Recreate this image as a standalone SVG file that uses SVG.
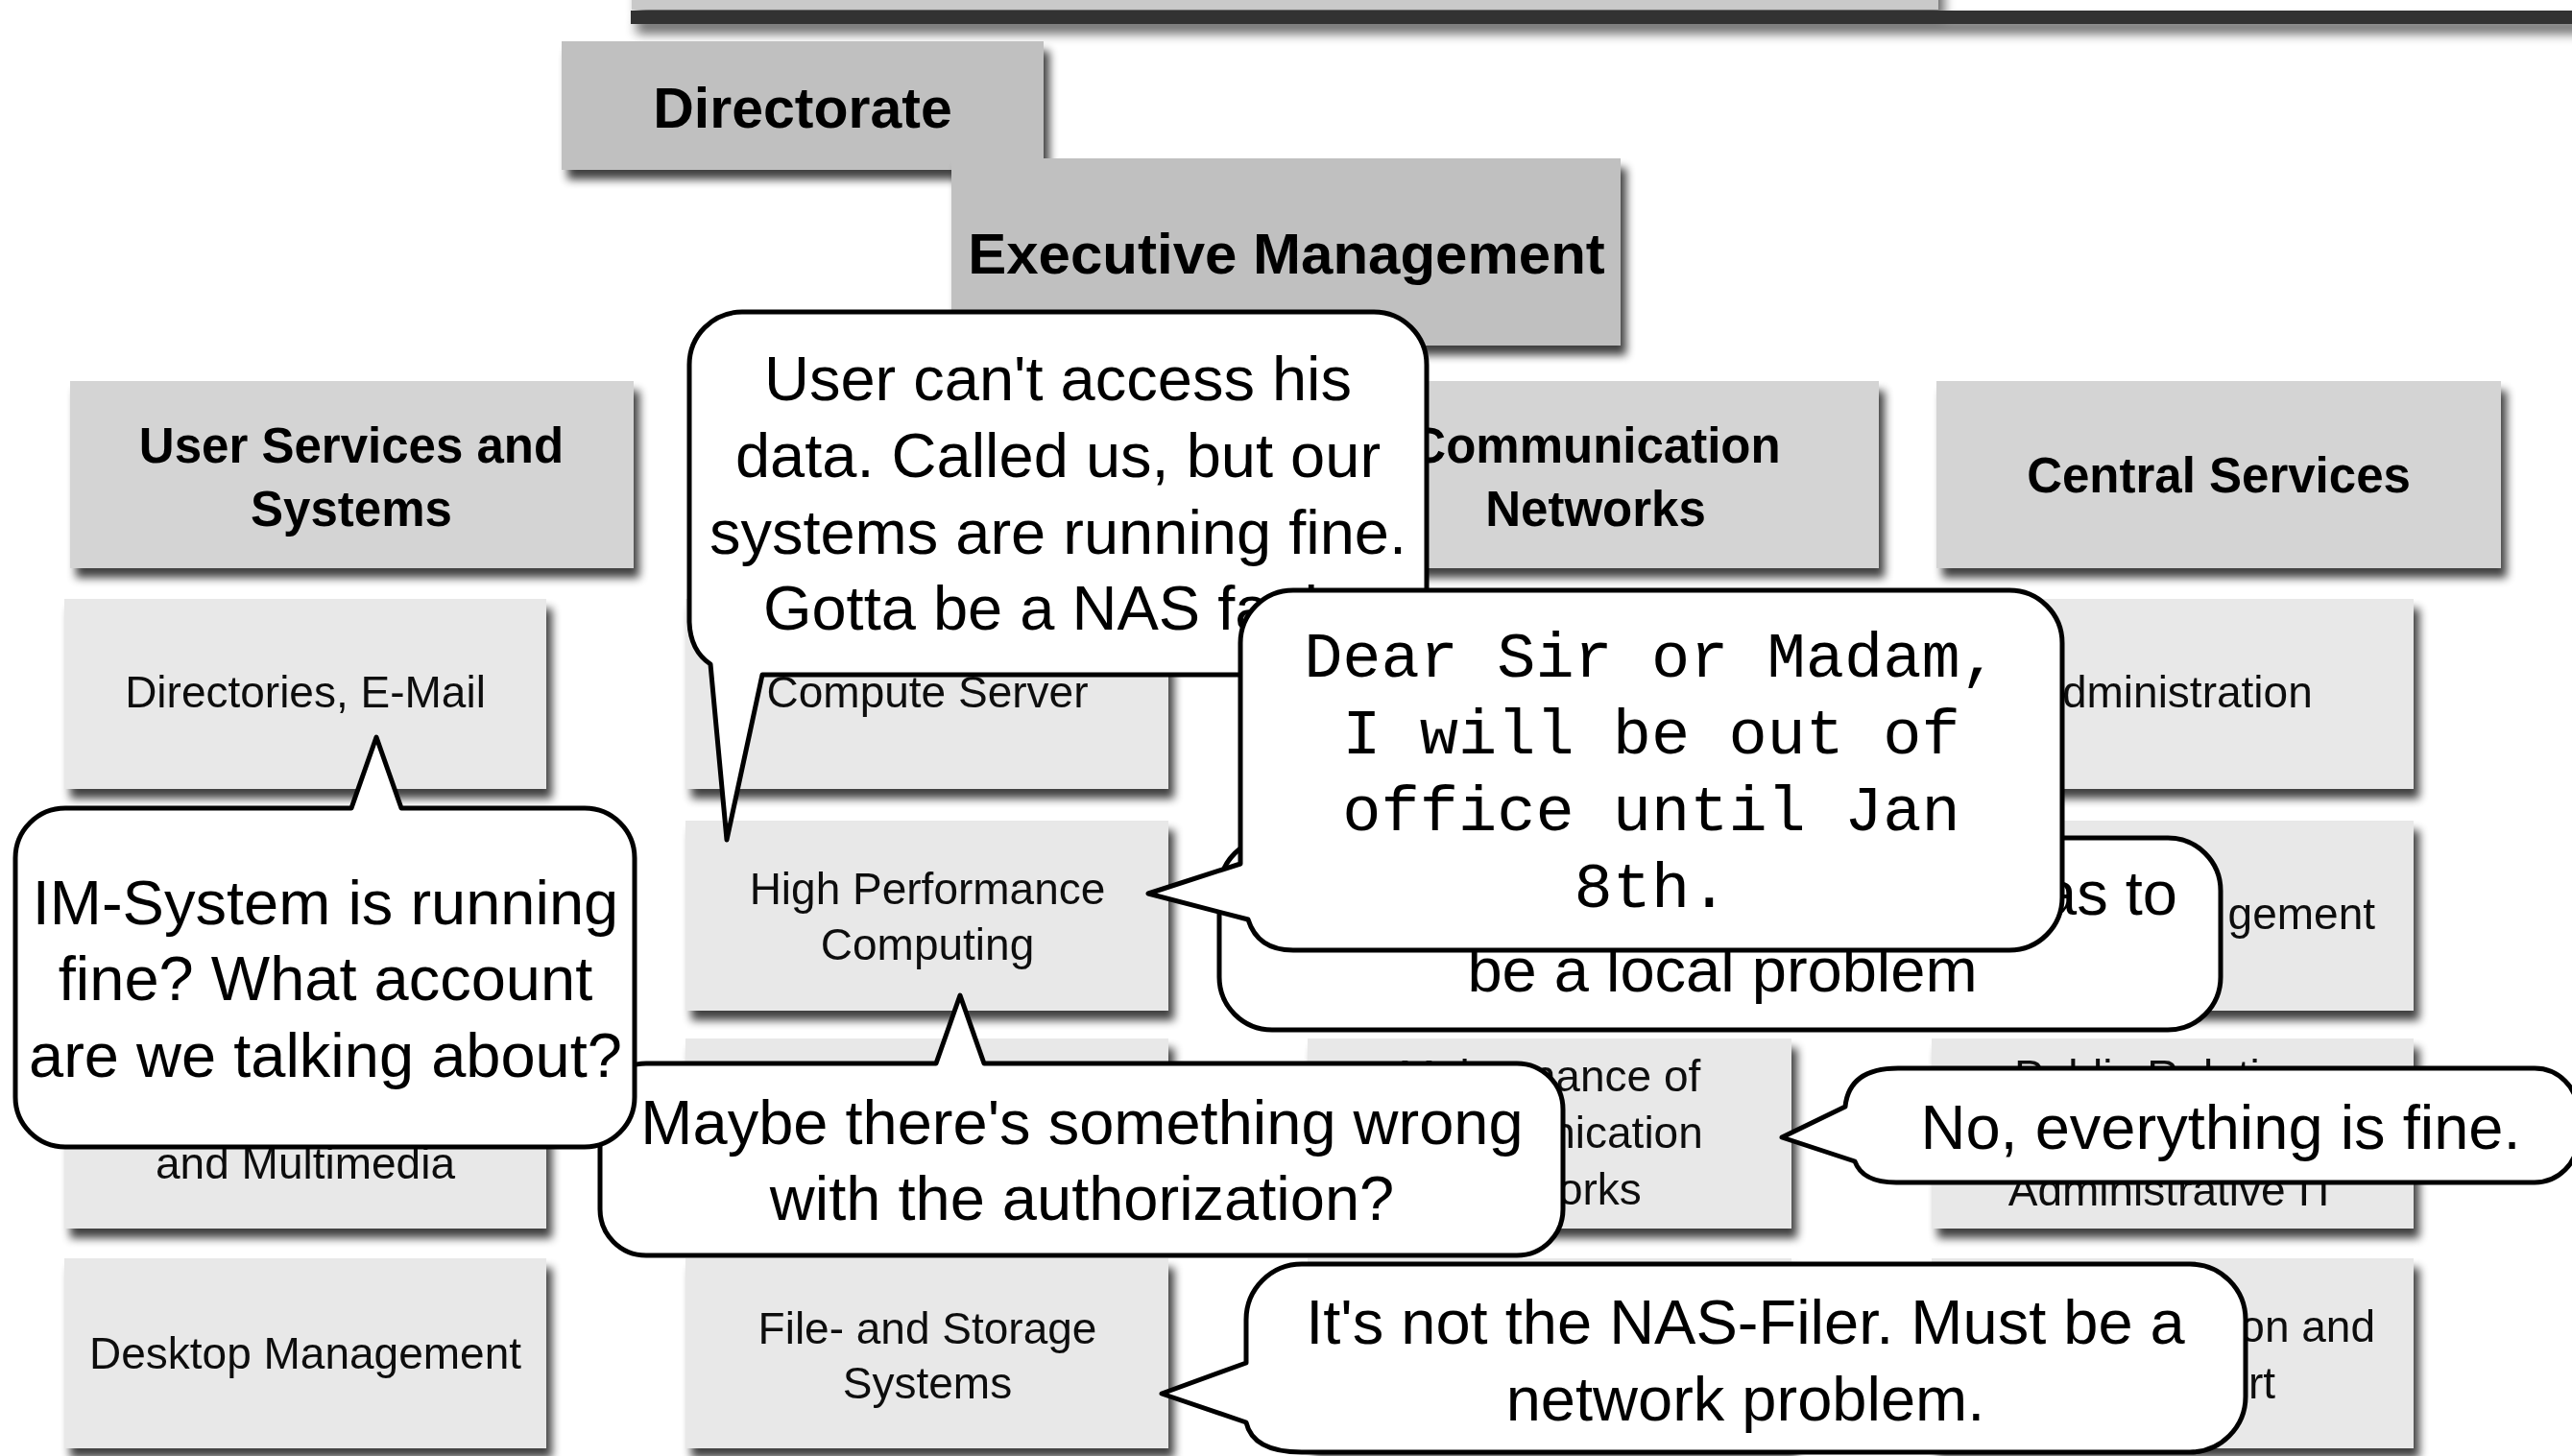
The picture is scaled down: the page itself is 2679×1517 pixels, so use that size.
<svg xmlns="http://www.w3.org/2000/svg" width="2679" height="1517" viewBox="0 0 2679 1517">
  <defs>
    <filter id="shadow" x="-10%" y="-20%" width="130%" height="150%">
      <feGaussianBlur in="SourceAlpha" stdDeviation="5"/>
      <feOffset dx="6" dy="10"/>
      <feComponentTransfer><feFuncA type="linear" slope="0.75"/></feComponentTransfer>
      <feMerge><feMergeNode/><feMergeNode in="SourceGraphic"/></feMerge>
    </filter>
    <filter id="barShadow" filterUnits="userSpaceOnUse" x="600" y="-100" width="2200" height="180">
      <feGaussianBlur in="SourceAlpha" stdDeviation="6"/>
      <feOffset dx="6" dy="10"/>
      <feComponentTransfer><feFuncA type="linear" slope="0.6"/></feComponentTransfer>
      <feMerge><feMergeNode/><feMergeNode in="SourceGraphic"/></feMerge>
    </filter>
    <style>
      .top { fill: #c0c0c0; }
      .head { fill: #d4d4d4; }
      .sub { fill: #e8e8e8; }
      .bold { font-family: "Liberation Sans", Arial, sans-serif; font-weight: bold; text-anchor: middle; fill: #000; }
      .lbl { font-family: "Liberation Sans", Arial, sans-serif; font-size: 46px; fill: #111; text-anchor: middle; }
      .lblEnd { font-family: "Liberation Sans", Arial, sans-serif; font-size: 46px; fill: #111; text-anchor: end; }
      .bubble { fill: #fff; stroke: #000; stroke-width: 5; stroke-linejoin: round; }
      .say { font-family: "Liberation Sans", Arial, sans-serif; font-size: 65px; fill: #000; text-anchor: middle; }
      .sayEnd { font-family: "Liberation Sans", Arial, sans-serif; font-size: 65px; fill: #000; text-anchor: end; }
      .mono { font-family: "Liberation Mono", "Courier New", monospace; font-size: 67px; fill: #000; text-anchor: middle; }
    </style>
  </defs>

  <rect width="2679" height="1517" fill="#fff"/>

  <!-- upper strip and dark rule -->
  <g id="upper-strip">
    <rect x="658" y="-60" width="1361" height="70" fill="#c9c9c9" filter="url(#barShadow)"/>
    <rect x="657" y="11" width="2040" height="14" fill="#333" filter="url(#barShadow)"/>
  </g>

  <!-- top management -->
  <g id="directorate" filter="url(#shadow)">
    <rect class="top" x="585" y="43" width="502" height="134"/>
    <text class="bold" x="836" y="133" font-size="59">Directorate</text>
  </g>
  <g id="executive-management" filter="url(#shadow)">
    <rect class="top" x="991" y="165" width="697" height="195"/>
    <text class="bold" x="1340" y="285" font-size="60">Executive Management</text>
  </g>

  <!-- department headers -->
  <g id="user-services" filter="url(#shadow)">
    <rect class="head" x="73" y="397" width="587" height="195"/>
    <text class="bold" font-size="51"><tspan x="366" y="482">User Services and</tspan><tspan x="366" y="548">Systems</tspan></text>
  </g>
  <g id="communication-networks" filter="url(#shadow)">
    <rect class="head" x="1369" y="397" width="588" height="195"/>
    <text class="bold" font-size="51"><tspan x="1662" y="482">Communication</tspan><tspan x="1662" y="548">Networks</tspan></text>
  </g>
  <g id="central-services" filter="url(#shadow)">
    <rect class="head" x="2017" y="397" width="588" height="195"/>
    <text class="bold" x="2311" y="513" font-size="51">Central Services</text>
  </g>

  <!-- groups: column 1 -->
  <g id="directories-email" filter="url(#shadow)">
    <rect class="sub" x="67" y="624" width="502" height="198"/>
    <text class="lbl" x="318" y="737">Directories, E-Mail</text>
  </g>
  <g id="multimedia" filter="url(#shadow)">
    <rect class="sub" x="67" y="1082" width="502" height="198"/>
    <text class="lbl" x="318" y="1228">and Multimedia</text>
  </g>
  <g id="desktop-management" filter="url(#shadow)">
    <rect class="sub" x="67" y="1311" width="502" height="198"/>
    <text class="lbl" x="318" y="1426">Desktop Management</text>
  </g>

  <!-- groups: column 2 -->
  <g id="compute-server" filter="url(#shadow)">
    <rect class="sub" x="714" y="624" width="503" height="198"/>
    <text class="lbl" x="966" y="737">Compute Server</text>
  </g>
  <g id="hpc" filter="url(#shadow)">
    <rect class="sub" x="714" y="855" width="503" height="198"/>
    <text class="lbl"><tspan x="966" y="942">High Performance</tspan><tspan x="966" y="1000">Computing</tspan></text>
  </g>
  <g id="column2-row3" filter="url(#shadow)">
    <rect class="sub" x="714" y="1082" width="503" height="198"/>
  </g>
  <g id="file-storage" filter="url(#shadow)">
    <rect class="sub" x="714" y="1311" width="503" height="198"/>
    <text class="lbl"><tspan x="966" y="1400">File- and Storage</tspan><tspan x="966" y="1457">Systems</tspan></text>
  </g>

  <!-- groups: column 3 -->
  <g id="network-maintenance" filter="url(#shadow)">
    <rect class="sub" x="1362" y="1082" width="504" height="198"/>
    <text class="lbl"><tspan x="1614" y="1137">Maintenance of</tspan><tspan x="1614" y="1196">Communication</tspan><tspan x="1614" y="1255">Networks</tspan></text>
  </g>
  <g id="column3-row4" filter="url(#shadow)">
    <rect class="sub" x="1362" y="1311" width="504" height="198"/>
  </g>

  <!-- groups: column 4 -->
  <g id="administration" filter="url(#shadow)">
    <rect class="sub" x="2012" y="624" width="502" height="198"/>
    <text class="lbl" x="2263" y="737">Administration</text>
  </g>
  <g id="management" filter="url(#shadow)">
    <rect class="sub" x="2012" y="855" width="502" height="198"/>
    <text class="lblEnd" x="2474" y="968">gement</text>
  </g>
  <g id="public-relations" filter="url(#shadow)">
    <rect class="sub" x="2012" y="1082" width="502" height="198"/>
    <text class="lbl"><tspan x="2263" y="1137">Public Relations</tspan><tspan x="2263" y="1256">Administrative IT</tspan></text>
  </g>
  <g id="support" filter="url(#shadow)">
    <rect class="sub" x="2012" y="1311" width="502" height="198"/>
    <text class="lblEnd"><tspan x="2474" y="1398">on and</tspan><tspan x="2370" y="1457">rt</tspan></text>
  </g>

  <!-- speech bubbles -->
  <g id="bubble-local-problem">
    <rect class="bubble" x="1270" y="873" width="1043" height="200" rx="55" ry="55"/>
    <text class="sayEnd" x="2268" y="953">as to</text>
    <text class="say" x="1794" y="1033">be a local problem</text>
  </g>

  <g id="bubble-nas-fault">
    <path class="bubble" d="M773 325 H1431 A55 55 0 0 1 1486 380 V648 A55 55 0 0 1 1431 703 H794 L757 875 L740 692 Q719 678 718 648 V380 A55 55 0 0 1 773 325 Z"/>
    <text class="say"><tspan x="1102" y="417">User can't access his</tspan><tspan x="1102" y="497">data. Called us, but our</tspan><tspan x="1102" y="577">systems are running fine.</tspan><tspan x="1102" y="656">Gotta be a NAS fault.</tspan></text>
  </g>

  <g id="bubble-out-of-office">
    <path class="bubble" d="M1347 615 H2093 A55 55 0 0 1 2148 670 V935 A55 55 0 0 1 2093 990 H1347 Q1310 990 1300 958 L1196 931 L1292 900 V670 A55 55 0 0 1 1347 615 Z"/>
    <text class="mono"><tspan x="1720" y="705">Dear Sir or Madam,</tspan><tspan x="1720" y="785">I will be out of</tspan><tspan x="1720" y="865">office until Jan</tspan><tspan x="1720" y="945">8th.</tspan></text>
  </g>

  <g id="bubble-authorization">
    <path class="bubble" d="M673 1108 H975 L1000 1037 L1025 1108 H1580 A48 48 0 0 1 1628 1156 V1260 A48 48 0 0 1 1580 1308 H673 A48 48 0 0 1 625 1260 V1156 A48 48 0 0 1 673 1108 Z"/>
    <text class="say"><tspan x="1127" y="1192">Maybe there's something wrong</tspan><tspan x="1127" y="1271">with the authorization?</tspan></text>
  </g>

  <g id="bubble-im-system">
    <path class="bubble" d="M68 842 H366 L392 768 L418 842 H609 A52 52 0 0 1 661 894 V1143 A52 52 0 0 1 609 1195 H68 A52 52 0 0 1 16 1143 V894 A52 52 0 0 1 68 842 Z"/>
    <text class="say"><tspan x="339" y="963">IM-System is running</tspan><tspan x="339" y="1042">fine? What account</tspan><tspan x="339" y="1122">are we talking about?</tspan></text>
  </g>

  <g id="bubble-everything-fine">
    <path class="bubble" d="M1977 1113 H2640 A45 45 0 0 1 2685 1158 V1187 A45 45 0 0 1 2640 1232 H1975 Q1940 1232 1932 1210 L1856 1185 L1922 1153 Q1926 1113 1977 1113 Z"/>
    <text class="say" x="2313" y="1197">No, everything is fine.</text>
  </g>

  <g id="bubble-network-problem">
    <path class="bubble" d="M1356 1317 H2281 A58 58 0 0 1 2339 1375 V1455 A58 58 0 0 1 2281 1513 H1356 Q1305 1513 1298 1482 L1210 1452 L1298 1420 V1375 A58 58 0 0 1 1356 1317 Z"/>
    <text class="say"><tspan x="1818" y="1400">It's not the NAS-Filer. Must be a</tspan><tspan x="1818" y="1480">network problem.</tspan></text>
  </g>
</svg>
